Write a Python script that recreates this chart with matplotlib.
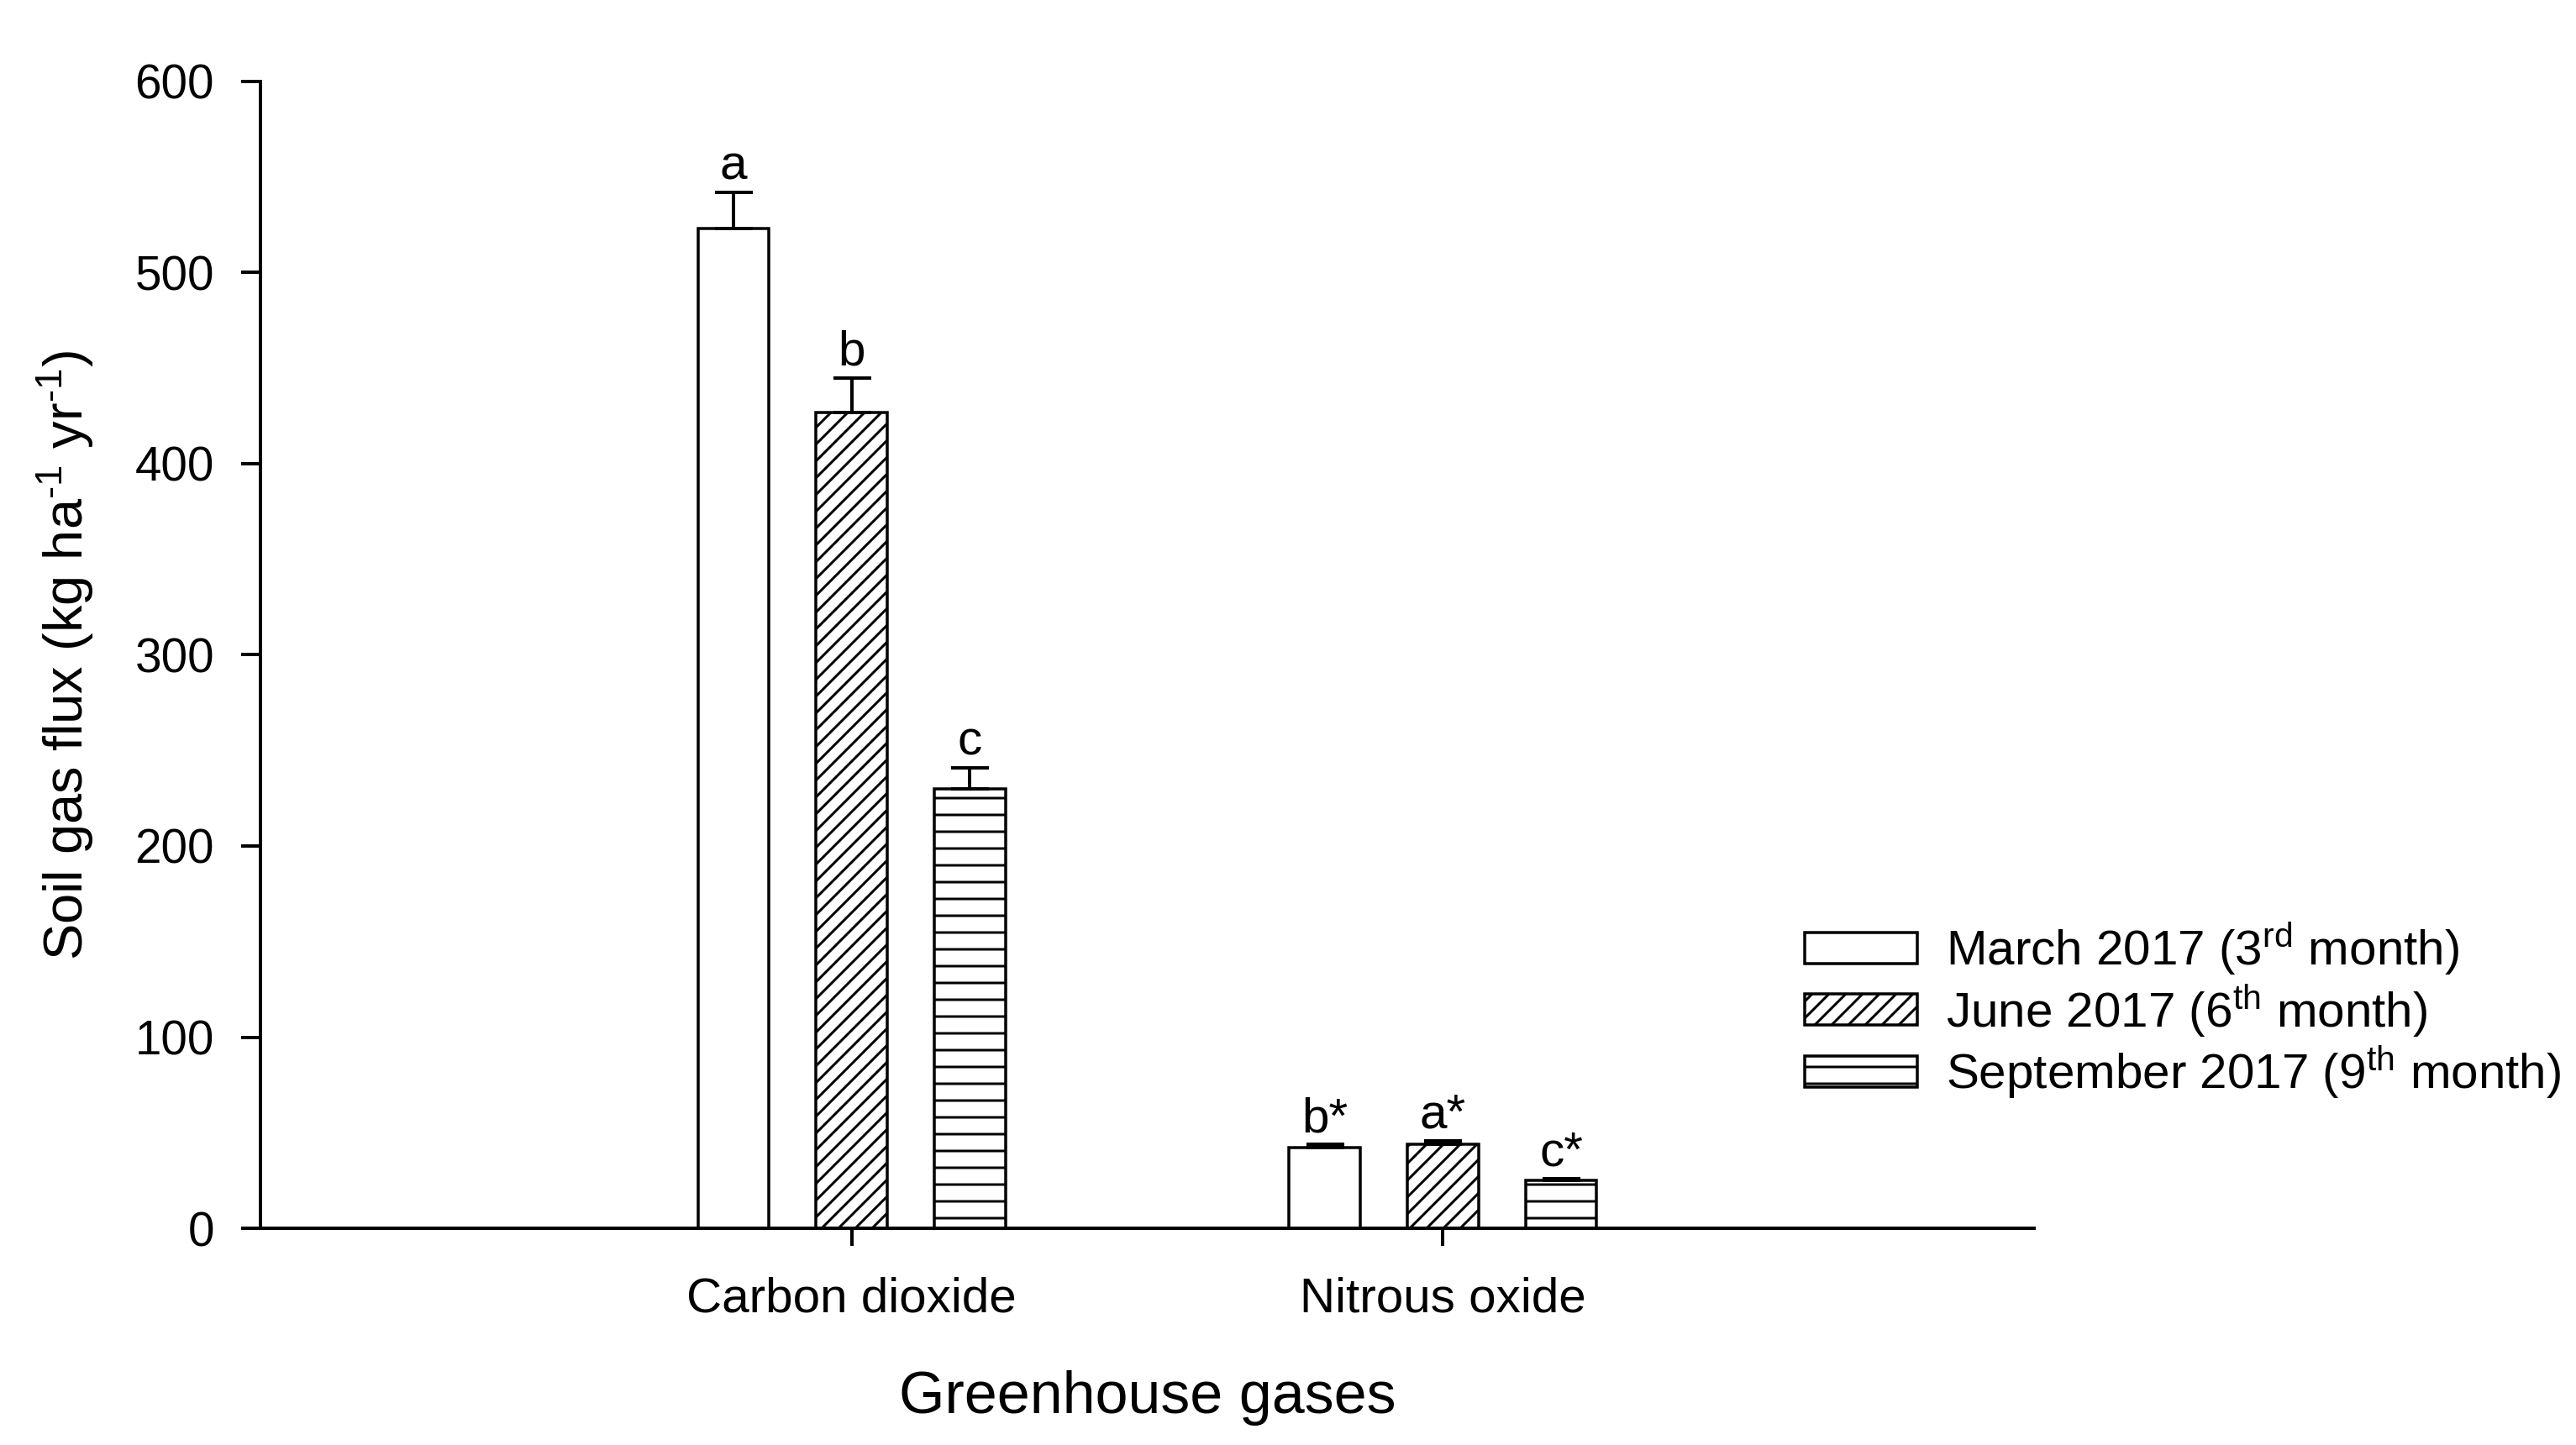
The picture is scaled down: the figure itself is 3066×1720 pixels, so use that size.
import matplotlib
matplotlib.use("Agg")
import matplotlib.pyplot as plt
import numpy as np

plt.rcParams['font.family'] = ['Liberation Sans', 'DejaVu Sans']
plt.rcParams['mathtext.fontset'] = 'custom'
plt.rcParams['mathtext.rm'] = 'Liberation Sans'
plt.rcParams['mathtext.default'] = 'regular'
plt.rcParams['hatch.linewidth'] = 0.9

# data
gases = ['Carbon dioxide', 'Nitrous oxide']
march = [523, 42]
march_err = [19, 1.8]
june = [427, 44]
june_err = [18, 1.8]
sept = [230, 25]
sept_err = [11, 1.0]
march_let = ['a', 'b*']
june_let = ['b', 'a*']
sept_let = ['c', 'c*']
labels = [r'March 2017 (3$^{rd}$ month)',
          r'June 2017 (6$^{th}$ month)',
          r'September 2017 (9$^{th}$ month)']

fig = plt.figure(figsize=(3066/240, 1720/240), dpi=240)
ax = fig.add_axes([310/3066, 1-1462/1720, (2421-310)/3066, (1462-97)/1720])

x = np.arange(1, len(gases)+1)
w = 0.12
off = 0.2
series = [(march, march_err, march_let, ''),
          (june, june_err, june_let, '////'),
          (sept, sept_err, sept_let, '--')]

for i, (vals, errs, lets, hatch) in enumerate(series):
    xs = x + (i-1)*off
    ax.bar(xs, vals, w, color='white', edgecolor='black', linewidth=1.05,
           hatch=hatch, label=labels[i], zorder=2)
    ax.errorbar(xs, vals, yerr=[np.zeros(len(vals)), errs], fmt='none',
                ecolor='black', elinewidth=1.2, capsize=6.75, capthick=1.2,
                zorder=3)
    for xx, v, e, t in zip(xs, vals, errs, lets):
        ax.annotate(t, (xx, v+e), xytext=(0, 4.5), textcoords='offset points',
                    ha='center', va='baseline', fontsize=17.5)

ax.set_xlim(0, 3)
ax.set_ylim(0, 600)
ax.set_yticks(np.arange(0, 601, 100))
ax.set_xticks(x)
ax.set_xticklabels(gases)
for s in ['top', 'right']:
    ax.spines[s].set_visible(False)
for s in ['left', 'bottom']:
    ax.spines[s].set_linewidth(1.2)
ax.tick_params(axis='y', length=6.9, width=1.2, pad=9.6, labelsize=17)
ax.tick_params(axis='x', length=6.3, width=1.2, pad=11, labelsize=17.5)

ax.set_xlabel('Greenhouse gases', fontsize=21, va='center')
ax.xaxis.set_label_coords(0.5, (1462-1664)/1365)
ax.set_ylabel('Soil gas flux (kg ha$^{\u20101}$ yr$^{\u20101}$)', fontsize=19.5, va='center')
ax.yaxis.set_label_coords((78-310)/2111, 0.5)

fig.legend(loc='center left', bbox_to_anchor=(2148/3066, 1-1203/1720),
           frameon=False, fontsize=17.5, handlelength=2.3, handleheight=0.6,
           handletextpad=0.58, labelspacing=0.1, borderpad=0, borderaxespad=0)

fig.savefig('out.png', dpi=240)
